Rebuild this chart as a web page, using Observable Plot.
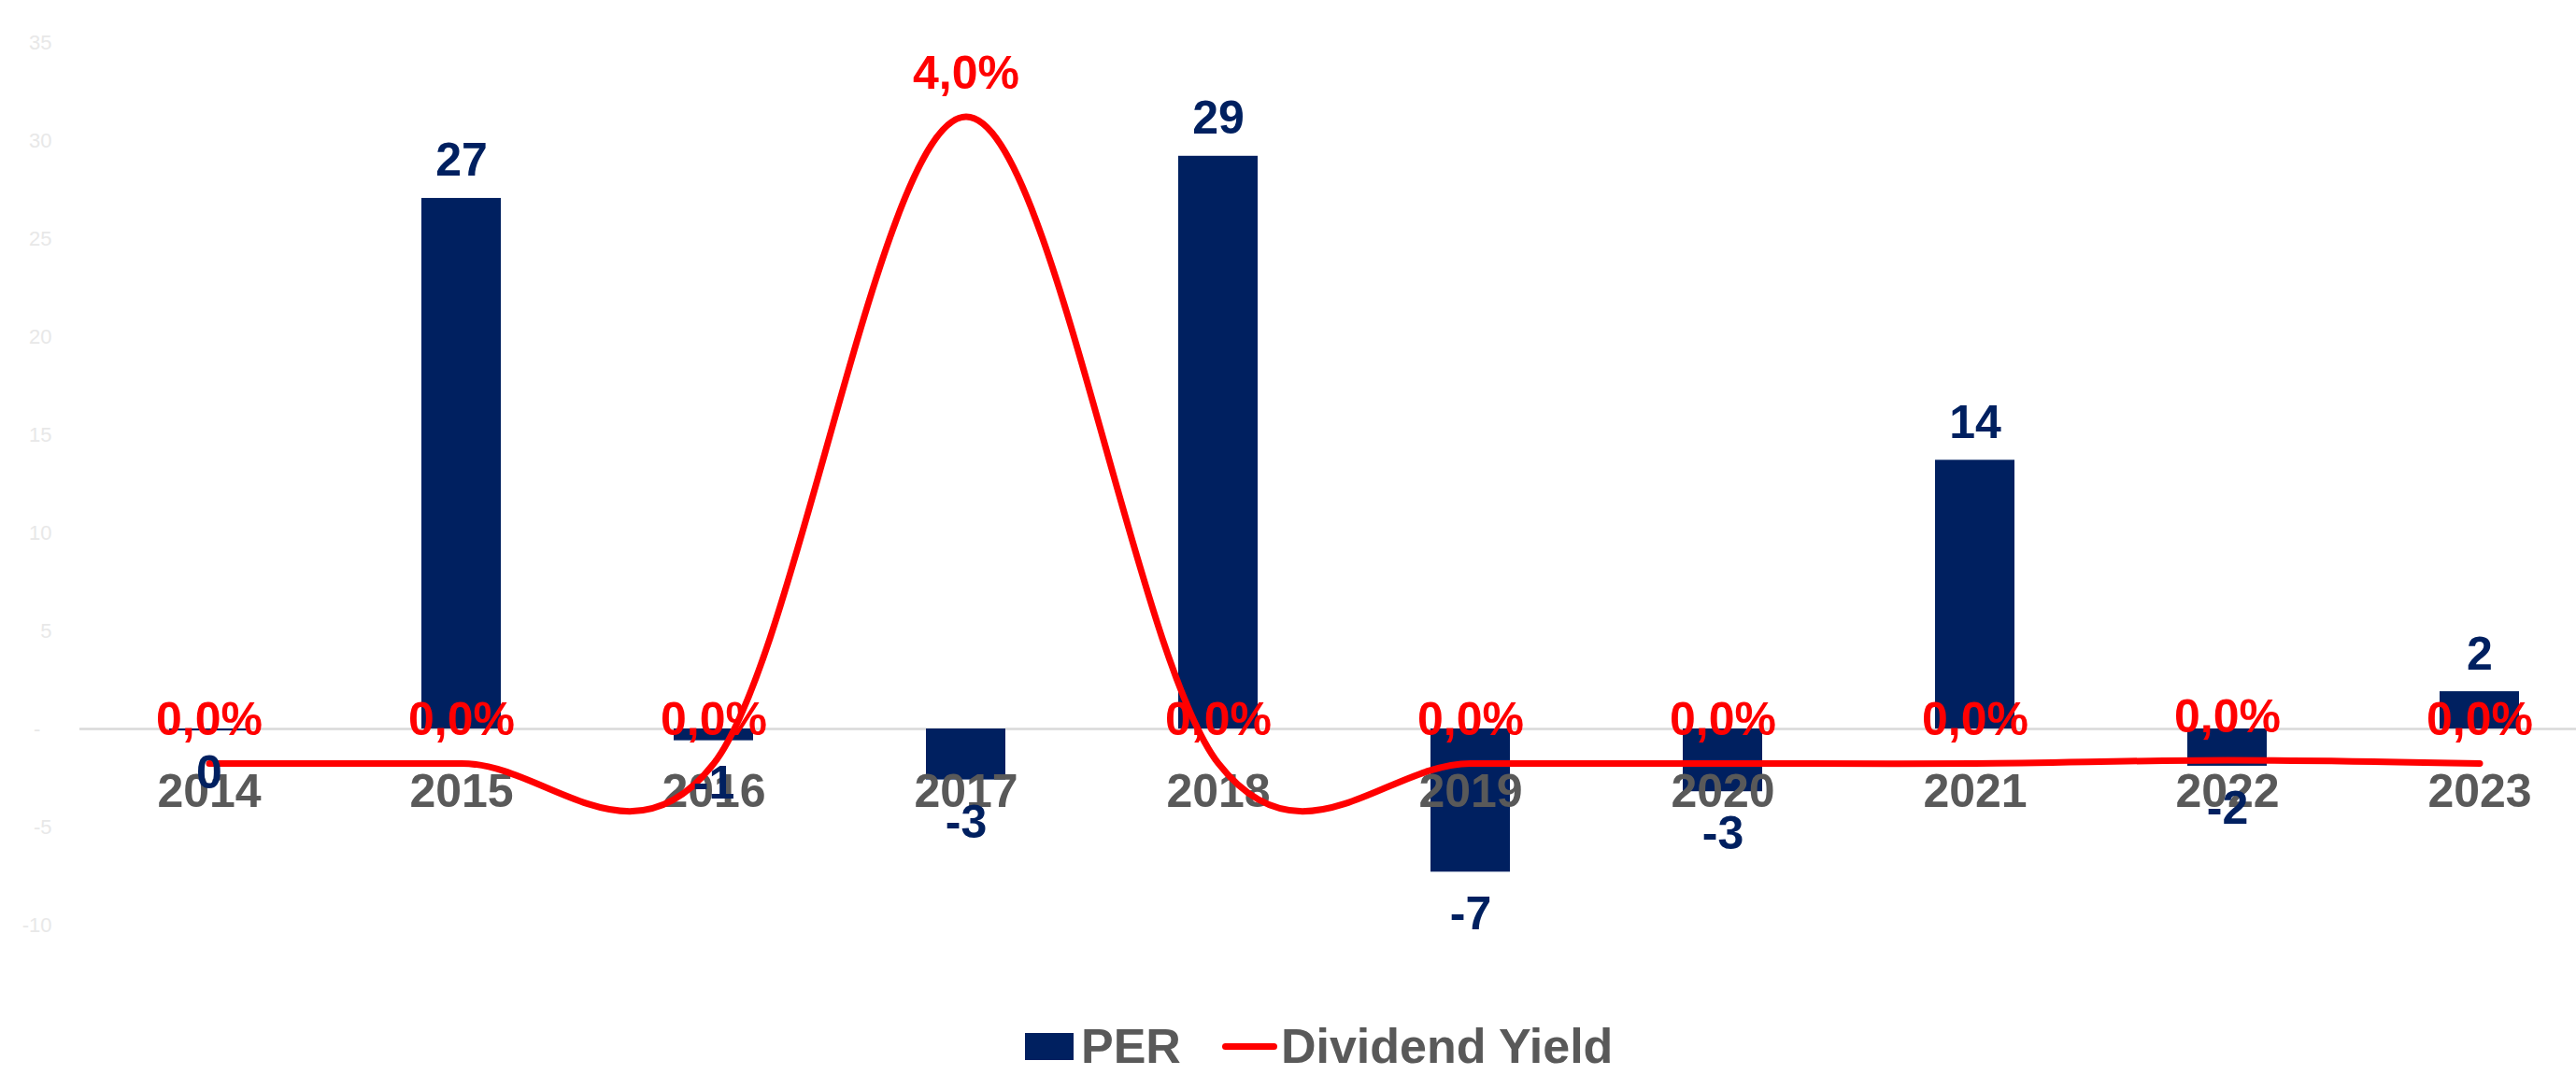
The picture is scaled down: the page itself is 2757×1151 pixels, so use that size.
<!DOCTYPE html>
<html>
<head>
<meta charset="utf-8">
<script src="https://cdn.jsdelivr.net/npm/d3@7"></script>
<script src="https://cdn.jsdelivr.net/npm/@observablehq/plot@0.6"></script>
<style>
  html, body { margin: 0; padding: 0; background: #ffffff; overflow: hidden; }
  #wrap { position: relative; width: 2757px; height: 1151px; background: #ffffff; }
  #legend {
    position: absolute; left: 1097px; top: 1085px; height: 70px;
    display: flex; align-items: center;
    font-family: "Liberation Sans", Arial, sans-serif; font-weight: bold;
    font-size: 52px; line-height: 1; color: #595959; white-space: nowrap;
  }
  #legend .sw { width: 52px; height: 29px; background: #002060; margin-right: 8px; }
  #legend .ln { width: 59px; height: 7px; border-radius: 4px; background: #ff0000; margin-left: 44px; margin-right: 4px; }
</style>
</head>
<body>
<div id="wrap">
  <div id="chart"></div>
  <div id="legend"><span class="sw"></span><span>PER</span><span class="ln"></span><span>Dividend Yield</span></div>
</div>
<script>
// ---- data ----
const years = ["2014", "2015", "2016", "2017", "2018", "2019", "2020", "2021", "2022", "2023"];
const per = [-0.1, 27.05, -0.6, -2.6, 29.2, -7.3, -3.2, 13.7, -1.9, 1.9];
const dividendYield = [0, 0, 0, 0.04, 0, 0, 0, 0, 0.0002, 0];
const yTicks = [-10, -5, 0, 5, 10, 15, 20, 25, 30, 35];
const y2Domain = [-0.01, 0.0446]; // hidden secondary axis of the dividend yield

// ---- helpers ----
const rows = years.map((year, i) => ({year, per: per[i], yieldPct: dividendYield[i]}));
const yDomain = [yTicks[0], yTicks[yTicks.length - 1]];
const toPrimary = v => yDomain[0] + (v - y2Domain[0]) / (y2Domain[1] - y2Domain[0]) * (yDomain[1] - yDomain[0]);
const fmtPct = d3.formatLocale({decimal: ",", thousands: ".", grouping: [3], currency: ["", ""]}).format(".1%");
const fmtPer = v => String(Math.round(v));
const FONT = "'Liberation Sans', Arial, sans-serif";

const chart = Plot.plot({
  width: 2757,
  height: 1060,
  marginLeft: 85,
  marginRight: 0,
  marginTop: 45,
  marginBottom: 70,
  style: {fontFamily: FONT, background: "#ffffff"},
  x: {domain: years, range: [85, 2792], paddingInner: 0.686, paddingOuter: 0.343, axis: null},
  y: {domain: yDomain},
  marks: [
    Plot.axisY(yTicks, {
      tickSize: 0, tickPadding: 30, label: null,
      tickFormat: d => d === 0 ? "-\u2007" : String(d),
      fontSize: 22, fill: "#e8e8e8", fontFamily: FONT
    }),
    Plot.ruleY([0], {stroke: "#d9d9d9", strokeWidth: 2.5}),
    Plot.barY(rows, {x: "year", y: "per", fill: "#002060"}),
    Plot.text(rows, {
      x: "year", y: () => 0, text: "year", dy: 83, lineAnchor: "bottom",
      fill: "#595959", fontSize: 50, fontWeight: "bold", fontFamily: FONT
    }),
    Plot.line(rows, {
      x: "year", y: d => toPrimary(d.yieldPct), curve: "cardinal",
      stroke: "#ff0000", strokeWidth: 7, strokeLinecap: "round", strokeLinejoin: "round"
    }),
    Plot.text(rows, {
      filter: d => d.per >= 0, x: "year", y: "per", text: d => fmtPer(d.per),
      dy: -24, lineAnchor: "bottom", fill: "#002060", fontSize: 50, fontWeight: "bold", fontFamily: FONT
    }),
    Plot.text(rows, {
      filter: d => d.per < 0, x: "year", y: "per", text: d => fmtPer(d.per),
      dy: 26, lineAnchor: "top", fill: "#002060", fontSize: 50, fontWeight: "bold", fontFamily: FONT
    }),
    Plot.text(rows, {
      x: "year", y: d => toPrimary(d.yieldPct), text: d => fmtPct(d.yieldPct),
      dy: -30, lineAnchor: "bottom", fill: "#ff0000", fontSize: 50, fontWeight: "bold", fontFamily: FONT
    })
  ]
});
document.getElementById("chart").appendChild(chart);
</script>
</body>
</html>
